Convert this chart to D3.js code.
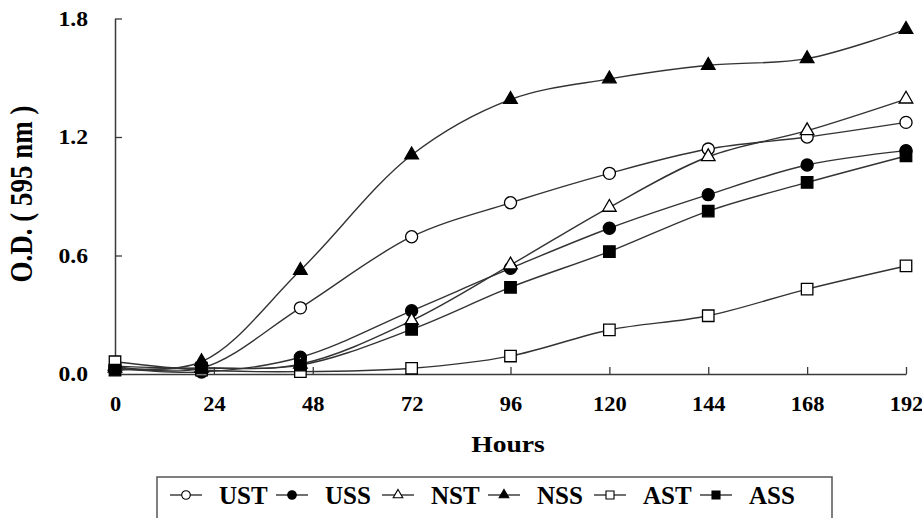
<!DOCTYPE html>
<html>
<head>
<meta charset="utf-8">
<script src="https://cdn.jsdelivr.net/npm/d3@7"></script>
<style>
  body { margin: 0; background: #fff; }
  text { font-family: "Liberation Serif", "Times New Roman", serif; font-weight: bold; fill: #000; }
</style>
</head>
<body>
<svg id="chart" width="922" height="518"></svg>
<script>
// sampling times (hours) and O.D. readings per series
let hours = [0, 21, 45, 72, 96, 120, 144, 168, 192];
let ust = [0.04, 0.03, 0.335, 0.695, 0.867, 1.016, 1.139, 1.200, 1.274];
let uss = [0.03, 0.01, 0.085, 0.320, 0.535, 0.738, 0.908, 1.058, 1.131];
let nst = [0.04, 0.03, 0.05, 0.270, 0.552, 0.844, 1.100, 1.232, 1.392];
let nss = [0.03, 0.062, 0.525, 1.109, 1.390, 1.494, 1.563, 1.597, 1.745];
let ast = [0.062, 0.02, 0.012, 0.029, 0.091, 0.223, 0.295, 0.430, 0.547];
let ass = [0.02, 0.03, 0.045, 0.226, 0.439, 0.620, 0.825, 0.970, 1.104];
let seriesNames = ["UST", "USS", "NST", "NSS", "AST", "ASS"];
let xTicks = [0, 24, 48, 72, 96, 120, 144, 168, 192];
let yTicks = [0, 0.6, 1.2, 1.8];

let seriesValues = [ust, uss, nst, nss, ast, ass];
let markers = {
    UST: {shape: d3.symbolCircle, fill: "#fff"},
    USS: {shape: d3.symbolCircle, fill: "#000"},
    NST: {shape: d3.symbolTriangle, fill: "#fff"},
    NSS: {shape: d3.symbolTriangle, fill: "#000"},
    AST: {shape: d3.symbolSquare, fill: "#fff"},
    ASS: {shape: d3.symbolSquare, fill: "#000"}
};
// marker areas, plot and legend
function markerSize(shape, small){
    if (shape === d3.symbolCircle) return small ? 58 : 115;
    if (shape === d3.symbolTriangle) return small ? 40 : 80;
    return small ? 64 : 132;
}

let svg = d3.select("#chart");
let x = d3.scaleLinear().domain([0, 192]).range([115, 906]);
let y = d3.scaleLinear().domain([0, 1.8]).range([374, 18.5]);
let axisColor = "#3a3a3a";

let data = seriesNames.map(function(n, i){
    return {name: n, points: hours.map(function(h, j){ return {h: h, v: seriesValues[i][j]}; })};
});

// axes
let gx = svg.append("g")
    .attr("transform", "translate(0,374)")
    .call(d3.axisBottom(x).tickValues(xTicks).tickSize(-7).tickSizeOuter(0).tickFormat(d3.format("d")));
let gy = svg.append("g")
    .attr("transform", "translate(115,0)")
    .call(d3.axisLeft(y).tickValues(yTicks).tickSize(-7).tickSizeOuter(0).tickFormat(d3.format(".1f")));

[gx, gy].forEach(function(g){
    g.attr("font-family", null).attr("font-size", null);
    g.select(".domain").attr("stroke", axisColor).attr("stroke-width", 1.5);
    g.selectAll(".tick line").attr("stroke", axisColor).attr("stroke-width", 1.3);
    g.selectAll(".tick text").style("font-size", "20px");
});
gx.selectAll(".tick text")
    .attr("y", 0).attr("dy", 0)
    .attr("transform", "translate(0,37) scale(1.12,1)");
gy.selectAll(".tick text")
    .attr("x", 0).attr("dy", "0.34em")
    .attr("transform", "translate(-27,0) scale(1.18,1)");

svg.append("text")
    .attr("transform", "translate(31.5,194) scale(1.15,1) rotate(-90)")
    .attr("text-anchor", "middle")
    .style("font-size", "27px")
    .text("O.D. ( 595 nm )");

svg.append("text")
    .attr("transform", "translate(508,452) scale(1.15,1)")
    .attr("text-anchor", "middle")
    .style("font-size", "24px")
    .text("Hours");

// series
let line = d3.line()
    .x(function(d){ return x(d.h); })
    .y(function(d){ return y(d.v); })
    .curve(d3.curveCatmullRom.alpha(0.5));

let sg = svg.selectAll(".series")
    .data(data)
    .enter().append("g")
    .attr("class", "series");

sg.append("path")
    .attr("d", function(d){ return line(d.points); })
    .attr("fill", "none")
    .attr("stroke", "#333")
    .attr("stroke-width", 1.4);

sg.each(function(s){
    let m = markers[s.name];
    d3.select(this).selectAll("path.mark")
        .data(s.points)
        .enter().append("path")
        .attr("class", "mark")
        .attr("transform", function(d){ return "translate(" + x(d.h) + "," + y(d.v) + ")"; })
        .attr("d", d3.symbol().type(m.shape).size(markerSize(m.shape, false)))
        .attr("fill", m.fill)
        .attr("stroke", "#000")
        .attr("stroke-width", 1.3);
});

// legend
let legendX = d3.scalePoint().domain(seriesNames).range([186, 716]);
svg.append("rect")
    .attr("x", 157).attr("y", 477)
    .attr("width", 675).attr("height", 60)
    .attr("fill", "#fff")
    .attr("stroke", "#555")
    .attr("stroke-width", 1.5);

let lg = svg.selectAll(".legend")
    .data(seriesNames)
    .enter().append("g")
    .attr("class", "legend")
    .attr("transform", function(d){ return "translate(" + legendX(d) + ",495)"; });

lg.append("line")
    .attr("x1", -16).attr("x2", 16)
    .attr("stroke", "#333").attr("stroke-width", 1.4);
lg.append("path")
    .attr("d", function(d){ return d3.symbol().type(markers[d].shape).size(markerSize(markers[d].shape, true))(); })
    .attr("fill", function(d){ return markers[d].fill; })
    .attr("stroke", "#000")
    .attr("stroke-width", 1.1);
lg.append("text")
    .attr("transform", "translate(33,8.5)")
    .style("font-size", "25px")
    .text(function(d){ return d; });
</script>
</body>
</html>
